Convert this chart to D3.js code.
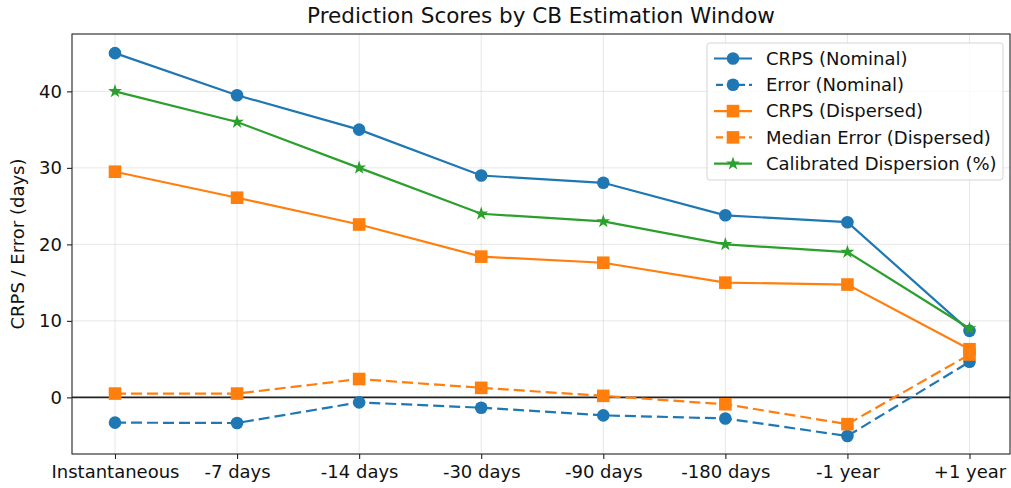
<!DOCTYPE html>
<html>
<head>
<meta charset="utf-8">
<script src="https://cdn.jsdelivr.net/npm/d3@7"></script>
<style>
  html, body { margin: 0; padding: 0; background: #fff; }
  svg { display: block; font-family: "DejaVu Sans", sans-serif; }
</style>
</head>
<body>
<div id="chart"></div>
<script>
var windows = ["Instantaneous", "-7 days", "-14 days", "-30 days", "-90 days", "-180 days", "-1 year", "+1 year"];
var crpsNominal = [45, 39.5, 35, 29, 28.05, 23.8, 22.9, 8.7];
var errorNominal = [-3.3, -3.35, -0.65, -1.35, -2.35, -2.75, -5.05, 4.65];
var crpsDispersed = [29.5, 26.1, 22.6, 18.4, 17.6, 15, 14.75, 6.3];
var medianErrorDispersed = [0.5, 0.5, 2.4, 1.25, 0.2, -0.9, -3.5, 5.6];
var calibratedDispersion = [40, 36, 30, 24, 23, 20, 19, 9];
var yTicks = [0, 10, 20, 30, 40];

var series = [
  { name: "CRPS (Nominal)", values: crpsNominal, color: "#1f77b4", dash: null, marker: "circle" },
  { name: "Error (Nominal)", values: errorNominal, color: "#1f77b4", dash: "11,5", marker: "circle" },
  { name: "CRPS (Dispersed)", values: crpsDispersed, color: "#ff7f0e", dash: null, marker: "square" },
  { name: "Median Error (Dispersed)", values: medianErrorDispersed, color: "#ff7f0e", dash: "11,5", marker: "square" },
  { name: "Calibrated Dispersion (%)", values: calibratedDispersion, color: "#2ca02c", dash: null, marker: "star" }
];

var width = 1011, height = 488;
var margin = { top: 34, right: 1, bottom: 34, left: 72 };
var innerW = width - margin.left - margin.right;
var innerH = height - margin.top - margin.bottom;
var fontSize = "18px";

var svg = d3.select("#chart").append("svg")
  .attr("width", width)
  .attr("height", height);

var g = svg.append("g")
  .attr("transform", "translate(" + margin.left + "," + margin.top + ")");

var x = d3.scalePoint().domain(windows).range([43, 897.5]);
var y = d3.scaleLinear().domain([-7.4, 47.5]).range([innerH, 0]);

// grid
g.append("g").selectAll("line").data(windows).join("line")
  .attr("x1", function(d) { return x(d); }).attr("x2", function(d) { return x(d); })
  .attr("y1", 0).attr("y2", innerH)
  .attr("stroke", "#b0b0b0").attr("stroke-opacity", 0.3).attr("stroke-width", 1);
g.append("g").selectAll("line").data(yTicks).join("line")
  .attr("x1", 0).attr("x2", innerW)
  .attr("y1", function(d) { return y(d); }).attr("y2", function(d) { return y(d); })
  .attr("stroke", "#b0b0b0").attr("stroke-opacity", 0.3).attr("stroke-width", 1);

// zero line
g.append("line")
  .attr("x1", 0).attr("x2", innerW)
  .attr("y1", y(0)).attr("y2", y(0))
  .attr("stroke", "#222").attr("stroke-width", 1.6);

// axes
var xAxis = g.append("g")
  .attr("transform", "translate(0," + innerH + ")")
  .call(d3.axisBottom(x).tickSize(5).tickPadding(6));
var yAxis = g.append("g")
  .call(d3.axisLeft(y).tickValues(yTicks).tickSize(5).tickPadding(5));
[xAxis, yAxis].forEach(function(ax) {
  ax.select(".domain").remove();
  ax.selectAll("line").attr("stroke", "#222").attr("stroke-width", 1.1);
  ax.selectAll("text").attr("fill", "#111").style("font-size", fontSize).style("font-family", "DejaVu Sans");
});

// frame
g.append("rect")
  .attr("x", 0).attr("y", 0).attr("width", innerW).attr("height", innerH)
  .attr("fill", "none").attr("stroke", "#222").attr("stroke-width", 1.1);

var line = d3.line()
  .x(function(d, i) { return x(windows[i]); })
  .y(function(d) { return y(d); });

var star = d3.symbol().type(d3.symbolStar).size(60);

function drawMarker(sel, s) {
  if (s.marker === "circle") {
    sel.append("circle").attr("r", 6.3).attr("fill", s.color);
  } else if (s.marker === "square") {
    sel.append("rect").attr("x", -6.3).attr("y", -6.3).attr("width", 12.6).attr("height", 12.6).attr("fill", s.color);
  } else {
    sel.append("path").attr("d", star()).attr("fill", s.color);
  }
}

series.forEach(function(s) {
  var sg = g.append("g");
  sg.append("path")
    .datum(s.values)
    .attr("d", line)
    .attr("fill", "none")
    .attr("stroke", s.color)
    .attr("stroke-width", 2.2)
    .attr("stroke-dasharray", s.dash);
  sg.selectAll("g.pt").data(s.values).join("g")
    .attr("class", "pt")
    .attr("transform", function(d, i) { return "translate(" + x(windows[i]) + "," + y(d) + ")"; })
    .each(function() { drawMarker(d3.select(this), s); });
});

// legend
var lg = svg.append("g").attr("transform", "translate(707,43)");
lg.append("rect")
  .attr("width", 296).attr("height", 137).attr("rx", 3)
  .attr("fill", "#fff").attr("fill-opacity", 0.8)
  .attr("stroke", "#d5d5d5").attr("stroke-width", 1);
series.forEach(function(s, i) {
  var row = lg.append("g").attr("transform", "translate(0," + (15.5 + i * 26.3) + ")");
  row.append("line")
    .attr("x1", 7).attr("x2", 45).attr("y1", 0).attr("y2", 0)
    .attr("stroke", s.color).attr("stroke-width", 2.2)
    .attr("stroke-dasharray", s.dash ? "7,4" : null)
    .attr("stroke-dashoffset", s.dash ? -2 : null);
  drawMarker(row.append("g").attr("transform", "translate(26,0)"), s);
  row.append("text")
    .attr("x", 59).attr("y", 0).attr("dy", "0.35em")
    .attr("fill", "#111").style("font-size", fontSize)
    .text(s.name);
});

// title
svg.append("text")
  .attr("x", margin.left + innerW / 2).attr("y", 23)
  .attr("text-anchor", "middle")
  .attr("fill", "#111").style("font-size", "21.5px")
  .text("Prediction Scores by CB Estimation Window");

// y label
svg.append("text")
  .attr("transform", "translate(24," + (margin.top + innerH / 2) + ") rotate(-90)")
  .attr("text-anchor", "middle")
  .attr("fill", "#111").style("font-size", fontSize)
  .text("CRPS / Error (days)");
</script>
</body>
</html>
